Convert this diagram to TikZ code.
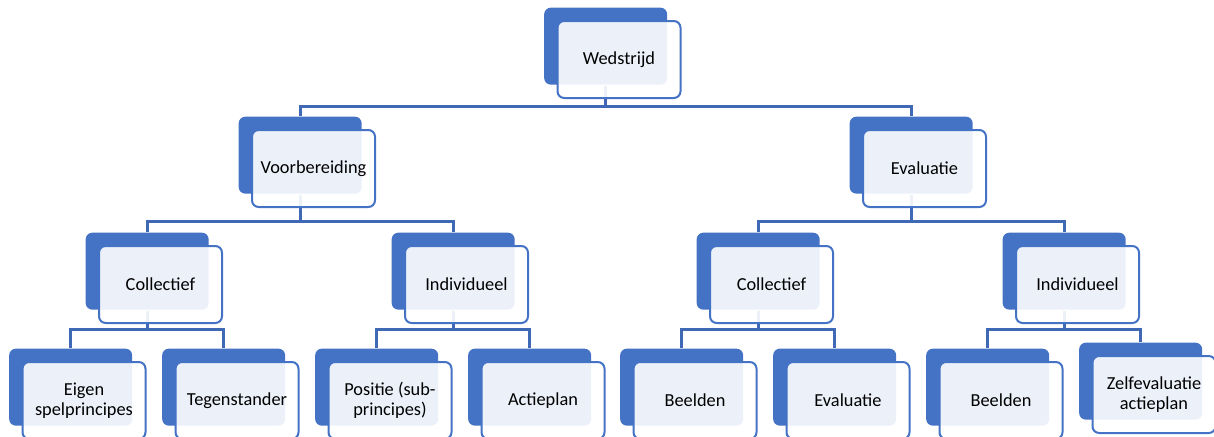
\documentclass[tikz,border=0pt]{standalone}
\usepackage{fontspec}
\setmainfont{Carlito}
\usepackage{xcolor}
\usepackage{tikz}
\usetikzlibrary{positioning,calc,shadows,backgrounds}
\definecolor{boxblue}{HTML}{4472C4}
\definecolor{linkblue}{HTML}{3F68B5}
\tikzset{
	unit/.style = {draw=boxblue, line width=1.2pt, rounded corners=4pt, fill=white, fill opacity=0.9, text opacity=1,
		minimum width=73.8pt, minimum height=46.2pt, inner sep=1pt, align=center,
		font=\fontsize{11pt}{12pt}\selectfont,
		drop shadow={shadow xshift=-8pt, shadow yshift=8pt, fill=boxblue, opacity=1}},
	link/.style = {draw=linkblue, line width=1.6pt}
}

\begin{document}
\begin{tikzpicture}[edge from parent/.style={draw=none}]
	\tikzstyle{level 1}=[level distance=65.4pt, sibling distance=366.6pt]
	\tikzstyle{level 2}=[level distance=69.6pt, sibling distance=183.6pt]
	\tikzstyle{level 3}=[level distance=69.6pt, sibling distance=91.8pt]
	\useasboundingbox (0,0) rectangle (728.4pt,-262.2pt);
	
	\node [unit] (w) at (371.4pt,-35.7pt) {Wedstrijd}
	child { node [unit] (v) {Voorbereiding}
		child { node [unit] (vc) {Collectief}
			child { node [unit] (vc1) {Eigen\\spelprincipes}
			}
			child { node [unit] (vc2) {Tegenstander}
			}
		}
		child { node [unit] (vi) {Individueel}
			child { node [unit] (vi1) {Positie (sub-\\principes)}
			}
			child { node [unit] (vi2) {Actieplan}
			}
		}
	}
	child { node [unit] (e) {Evaluatie}
		child { node [unit] (ec) {Collectief}
			child { node [unit] (ec1) {Beelden}
			}
			child { node [unit] (ec2) {Evaluatie}
			}
		}
		child { node [unit] (ei) {Individueel}
			child { node [unit] (ei1) {Beelden}
			}
			child { node [unit, yshift=3.6pt] (ei2) {Zelfevaluatie\\actieplan}
			}
		}
	}
	;
	% connectors behind the boxes
	\begin{pgfonlayer}{background}
		\foreach \from/\to/\drop in {w/v/12.6pt, w/e/12.6pt,
			v/vc/16.2pt, v/vi/16.2pt, e/ec/16.2pt, e/ei/16.2pt,
			vc/vc1/11.4pt, vc/vc2/11.4pt, vi/vi1/11.4pt, vi/vi2/11.4pt,
			ec/ec1/11.4pt, ec/ec2/11.4pt, ei/ei1/11.4pt, ei/ei2/11.4pt}
		\draw [link] ([shift={(-8pt,8pt)}]\from.south) -- ++(0,-\drop) -| ([shift={(-8pt,8pt)}]\to.north);
	\end{pgfonlayer}
\end{tikzpicture}
\end{document}
